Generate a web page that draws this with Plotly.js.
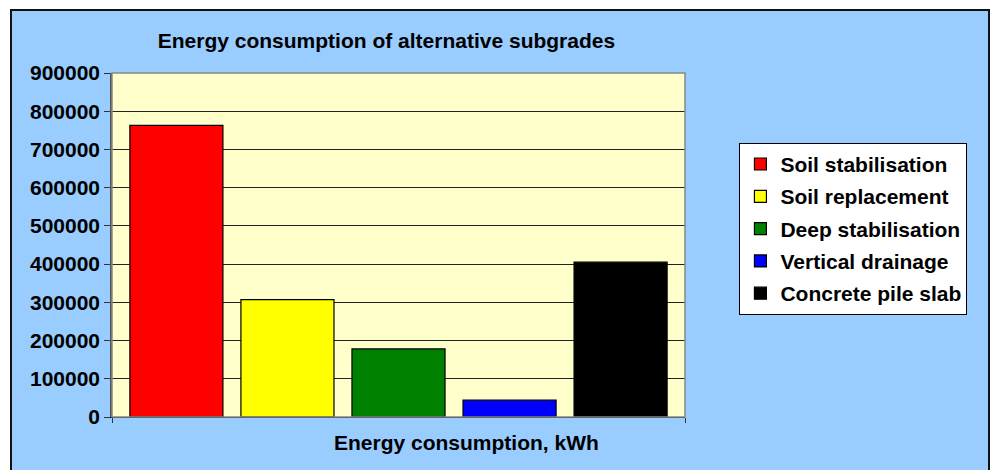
<!DOCTYPE html>
<html>
<head>
<meta charset="utf-8">
<script src="https://cdn.plot.ly/plotly-3.0.1.min.js"></script>
<style>
  html, body { margin: 0; padding: 0; background: #ffffff; width: 992px; height: 470px; overflow: hidden; }
  #frame { position: absolute; left: 10px; top: 9px; width: 976px; height: 470px;
           border-left: 2px solid #111; border-top: 2px solid #111; border-right: 2px solid #111;
           background: #99CCFF; }
  #chart { width: 976px; height: 470px; }
</style>
</head>
<body>
<div id="frame"><div id="chart"></div></div>
<script>
const categories = ["Energy consumption, kWh"];
const seriesNames = ["Soil stabilisation", "Soil replacement", "Deep stabilisation", "Vertical drainage", "Concrete pile slab"];
const seriesValues = [763000, 307000, 178000, 44000, 405000];
const seriesColors = ["#FF0000", "#FFFF00", "#008000", "#0000FF", "#000000"];
const yTickValues = [0, 100000, 200000, 300000, 400000, 500000, 600000, 700000, 800000, 900000];
const yTickLabels = ["0", "100000", "200000", "300000", "400000", "500000", "600000", "700000", "800000", "900000"];

const FONT = "Liberation Sans, Arial, sans-serif";
const FS = 21;

const traces = seriesNames.map((name, i) => ({
  type: "bar",
  name: name,
  legendgroup: "g" + i,
  x: categories,
  y: [seriesValues[i]],
  marker: { color: seriesColors[i], line: { color: "#000000", width: 1.2 } },
  hoverinfo: "name+y"
}));

const layout = {
  width: 976,
  height: 470,
  paper_bgcolor: "#99CCFF",
  plot_bgcolor: "#FFFFCC",
  margin: { l: 100, r: 303, t: 62, b: 64 },
  barmode: "group",
  bargap: 0.031,
  bargroupgap: 0.162,
  showlegend: true,
  font: { family: FONT, size: FS, color: "#000000", weight: "bold" },
  title: {
    text: "Energy consumption of alternative subgrades",
    font: { family: FONT, size: FS, color: "#000000", weight: "bold" },
    xref: "paper", x: 0.479, xanchor: "center",
    yref: "container", y: 0.936, yanchor: "middle"
  },
  xaxis: {
    type: "category",
    showticklabels: false,
    ticks: "outside",
    tickson: "boundaries",
    ticklen: 5,
    tickcolor: "#333333",
    showline: true,
    linecolor: "#000000",
    linewidth: 1,
    showgrid: false,
    zeroline: false
  },
  yaxis: {
    range: [0, 900000],
    tickvals: yTickValues,
    ticktext: yTickLabels,
    ticks: "outside",
    ticklen: 6,
    tickcolor: "#333333",
    showline: true,
    linecolor: "#555555",
    linewidth: 1.5,
    showgrid: true,
    gridcolor: "#222222",
    gridwidth: 1,
    zeroline: false,
    tickfont: { family: FONT, size: FS, color: "#000000", weight: "bold" }
  },
  shapes: [{
    type: "rect", xref: "paper", yref: "paper", x0: 0, x1: 1, y0: 0, y1: 1,
    line: { color: "#888888", width: 1.5 }, fillcolor: "rgba(0,0,0,0)", layer: "above"
  }],
  legend: {
    x: 1.095, xanchor: "left", y: 0.797, yanchor: "top",
    bgcolor: "#FFFFFF", bordercolor: "#000000", borderwidth: 1,
    traceorder: "grouped", tracegroupgap: 2,
    font: { family: FONT, size: FS, color: "#000000", weight: "bold" },
    itemwidth: 30
  },
  annotations: [{
    text: "Energy consumption, kWh",
    xref: "paper", x: 0.618, xanchor: "center",
    yref: "paper", y: -0.075, yanchor: "middle",
    showarrow: false,
    font: { family: FONT, size: FS, color: "#000000", weight: "bold" }
  }]
};

Plotly.newPlot("chart", traces, layout, { displayModeBar: false });
</script>
</body>
</html>
